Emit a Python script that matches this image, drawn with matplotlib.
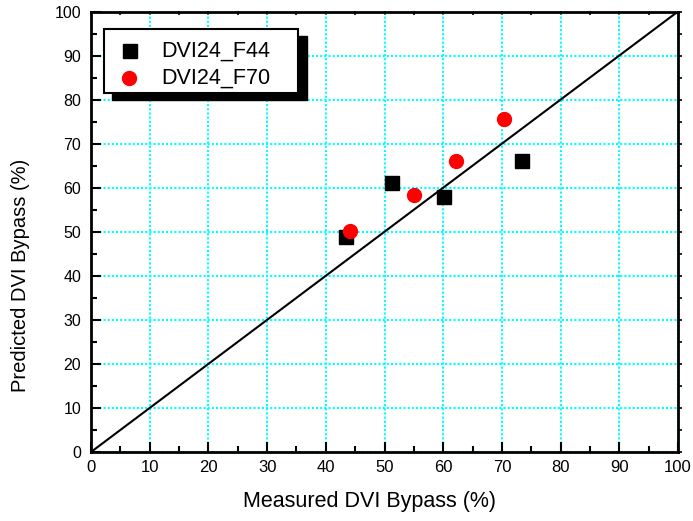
import matplotlib
matplotlib.use("Agg")
import matplotlib.pyplot as plt
from matplotlib.patches import Rectangle
from matplotlib.ticker import MultipleLocator

plt.rcParams['font.family'] = ['Liberation Sans', 'DejaVu Sans']

# Data
series_names = ["DVI24_F44", "DVI24_F70"]
f44_measured = [43.4, 51.3, 60.1, 73.5]
f44_predicted = [48.8, 61.0, 57.8, 66.1]
f70_measured = [44.1, 55.0, 62.2, 70.4]
f70_predicted = [50.2, 58.3, 66.1, 75.6]
x_label = "Measured DVI Bypass (%)"
y_label = "Predicted DVI Bypass (%)"

fig = plt.figure(figsize=(6.93, 5.21), dpi=100)
ax = fig.add_axes([91/693, 69/521, 587/693, 440.5/521])

ax.set_xlim(0, 100)
ax.set_ylim(0, 100)

# grid
ax.grid(True, which='major', color='#00FFFF', linestyle=(0, (1, 1)), linewidth=1.5)
ax.set_axisbelow(True)

# 1:1 line
ax.plot([0, 100], [0, 100], color='black', linewidth=1.5, zorder=3)

ax.plot(f44_measured, f44_predicted, linestyle='none', marker='s', markersize=10,
        color='black', zorder=4)
ax.plot(f70_measured, f70_predicted, linestyle='none', marker='o', markersize=10,
        color='#FF0000', markeredgecolor='#FF0000', zorder=5)

ax.xaxis.set_major_locator(MultipleLocator(10))
ax.xaxis.set_minor_locator(MultipleLocator(5))
ax.yaxis.set_major_locator(MultipleLocator(10))
ax.yaxis.set_minor_locator(MultipleLocator(5))
ax.tick_params(which='major', direction='in', length=7, width=1.5, color='black')
ax.tick_params(which='minor', direction='in', length=4, width=1.5, color='black')
ax.tick_params(axis='x', which='major', labelsize=12, pad=6)
ax.tick_params(axis='y', which='major', labelsize=11.5, pad=7)

for s in ax.spines.values():
    s.set_linewidth(2)

# top / right small ticks
secx = ax.secondary_xaxis('top')
secx.xaxis.set_major_locator(MultipleLocator(5))
secx.tick_params(direction='in', length=3, width=1.2, labeltop=False)
secx.spines['top'].set_visible(False)
secy = ax.secondary_yaxis('right')
secy.yaxis.set_major_locator(MultipleLocator(5))
secy.tick_params(direction='out', length=3, width=1.2, labelright=False)
secy.spines['right'].set_visible(False)

ax.set_xlabel(x_label, fontsize=15.5)
ax.set_ylabel(y_label, fontsize=14.5)
ax.xaxis.set_label_coords(0.475, -0.088)
ax.yaxis.set_label_coords(-0.104, 0.40)

# legend with shadow (axes fraction coords)
shadow = Rectangle((0.0358, 0.7991), 0.3322, 0.1453, transform=ax.transAxes,
                   facecolor='black', edgecolor='black', zorder=6, clip_on=False)
box = Rectangle((0.0221, 0.8150), 0.3305, 0.1453, transform=ax.transAxes,
                facecolor='white', edgecolor='black', linewidth=1.5, zorder=7,
                clip_on=False)
ax.add_patch(shadow)
ax.add_patch(box)
ax.plot([0.0664], [0.910], transform=ax.transAxes, marker='s', markersize=10,
        color='black', linestyle='none', zorder=8, clip_on=False)
ax.plot([0.0647], [0.849], transform=ax.transAxes, marker='o', markersize=10,
        color='#FF0000', linestyle='none', zorder=8, clip_on=False)
ax.text(0.1193, 0.910, series_names[0], transform=ax.transAxes, fontsize=15.5,
        va='center', ha='left', zorder=9)
ax.text(0.1193, 0.849, series_names[1], transform=ax.transAxes, fontsize=15.5,
        va='center', ha='left', zorder=9)

fig.savefig("out.png", dpi=100)
